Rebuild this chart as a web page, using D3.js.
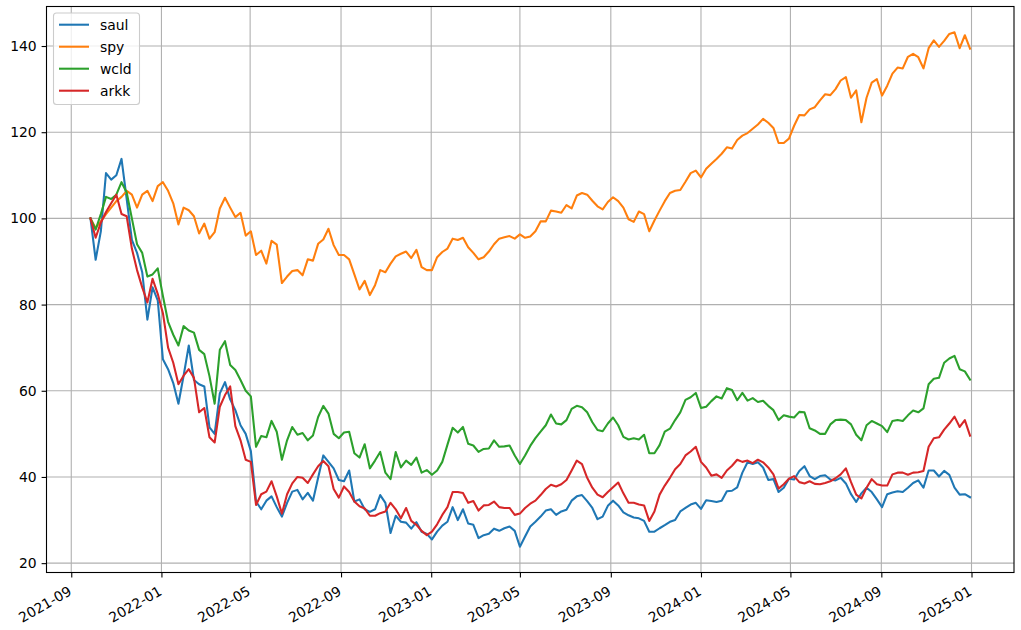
<!DOCTYPE html>
<html>
<head>
<meta charset="utf-8">
<script src="https://cdn.jsdelivr.net/npm/d3@7"></script>
<style>
  html, body { margin: 0; padding: 0; background: #fff; }
  svg { display: block; font-family: "DejaVu Sans", sans-serif; }
</style>
</head>
<body>
<svg id="chart" width="1021" height="630"></svg>
<script>
// ---- data (weekly samples, starting 2021-09-27) ----
const startDate = "2021-09-27";
const stepDays = 7;

const saul = [100,90.4,97,110.5,109,110,113.8,104.5,95,92,87.5,76.5,84,81,67.3,65,61.8,57,63.5,70.5,
  62.5,61.5,61,51.5,50,59.4,62,58,55.5,52,50,46,34.3,32.5,34.5,35.5,33,30.8,34,36.6,
  37,34.8,36.3,34.5,39.8,45,43.5,42,39.3,39,41.5,34.3,34.8,32.5,31.9,32.5,35.8,34,27,31,
  29.6,29.4,28,29.5,27.3,26.8,25.5,27.3,28.7,29.6,33,30,32.5,29.2,28.9,25.8,26.5,26.8,28,27.5,
  28.1,28.5,27.5,23.8,26.2,28.5,29.6,30.8,32.2,32.5,31.2,32,32.4,34.5,35.5,35.8,34.4,32.8,30.2,30.8,
  33.3,34.5,33.4,31.8,31.1,30.6,30.4,29.8,27.3,27.3,28.1,28.8,29.6,30,32,32.8,33.6,34,32.6,34.6,
  34.4,34.2,34.5,36.7,36.8,37.6,41,43.4,43,43.4,42.2,39.3,39.5,36.5,37.5,39.6,39.4,41.4,42.5,40.2,
  39.5,40.2,40.4,39.4,39.2,39.8,38.5,36,34.2,36.2,37.5,36.5,34.8,33,36,36.4,36.7,36.5,37.5,38.6,
  39.2,37.5,41.5,41.5,40.1,41.4,40.5,37.5,35.9,36,35.3];

const spy = [100,97.8,99.3,101,102.5,104,105,106.4,105.5,102.5,105.5,106.4,104,107.5,108.4,106.4,103.5,98.6,102.5,101.9,
  100.5,96.5,98.8,95.3,96.8,102.3,104.8,102.5,100.3,101.3,96,97,91.5,92.5,89.5,94.8,93.9,85,86.5,87.8,
  88,86.8,90.5,90.2,94.1,95.1,97.6,93.8,91.5,91.5,90.5,87,83.5,85.5,82.2,84.5,88,87.5,89.5,91.2,
  91.8,92.3,90.8,92.7,88.7,88,88,91,92.2,93,95.3,95,95.5,93.3,92,90.5,91,92.3,94,95.3,
  95.6,95.9,95.3,96.3,95.5,95.8,97,99.3,99.3,101.8,101.6,101.3,103.1,102.3,105.3,105.9,105.5,104.1,102.8,102.1,
  103.8,104.9,104,102.5,99.8,99.2,101.6,101,97,99.5,101.8,104,105.9,106.4,106.6,108.5,110.5,111.1,109.5,111.5,
  112.7,113.8,115,116.5,116.2,118.2,119.2,119.8,120.8,121.8,123.1,122.2,121,117.5,117.5,118.5,121.5,124,123.9,125.3,
  125.8,127.4,128.8,128.6,130,132,132.8,128,129.7,122.3,128,131.5,132.3,128.5,130.8,133.6,135,134.8,137.5,138.2,
  137.4,134.8,139.5,141.3,139.8,141.2,142.8,143.2,139.5,142.5,139.4];

const wcld = [100,97.4,101,105,104.5,105.5,108.4,106,100,94,92,86.5,87,88.4,82,76,73,70.5,75,74,
  73.5,69.5,68.5,63.4,57,69.5,71.5,66,64.8,62.5,60,58.7,47,49.5,49.2,53,50.5,44,48.5,51.6,
  49.8,50.2,48.5,49.6,53.9,56.5,54.7,50,49,50.3,50.5,45.5,44.5,47.6,42,43.8,45.8,41,39.5,45.8,
  42.2,43.8,42.8,44.5,41,41.6,40.5,41.5,43.5,47.5,51.4,50.3,51.6,47.7,47.3,45.8,46.5,46.6,48.5,47,
  47.1,47.3,45,43,45,47.2,49,50.5,52,54.5,52.4,52.2,53.2,55.8,56.5,56.2,55,52.7,50.9,50.6,
  52.4,53.8,52,49.3,48.7,49,48.7,49.8,45.5,45.5,47.4,50.5,51.2,53.2,55,57.9,58.5,59.5,56,56.3,
  57.6,58.7,58.2,60.6,60.2,57.8,59.5,57.7,58.3,57.4,57.7,56.5,55.5,53.2,54.3,54,53.8,55.1,55,51.3,
  50.8,50,50,52.2,53.2,53.3,53.2,52.2,49.8,48.5,52,53,52.4,51.8,50.4,53,53.2,53,54.3,55.4,
  55,55.9,61.5,62.8,63,66.5,67.5,68.1,65,64.5,62.6];

const arkk = [100,95.5,99,101.5,103.5,105.5,101,100.5,93,88,84,80.5,86,82.5,78,70,66.5,61.5,63.5,65,
  63,55,56,49.2,48,56.3,59,61,51.8,48.5,44,43.5,33.5,36,36.6,39,35.5,31.5,36,38.5,
  40,39.8,38.6,40.6,42.5,43.7,42.5,37.2,35.2,37.8,36.5,34.3,33.2,32.7,31,31,31.6,32,34,32.5,
  30.4,32.8,29.8,28.9,27.5,26.5,27.3,29,31.2,33,36.5,36.5,36.3,34,34.4,32.2,33.4,33.5,34.3,33,
  32.8,32.8,31.2,31.5,32.8,33.8,34.5,35.8,37.2,38.2,37.8,38.3,39.3,41.5,43.8,43,39.8,37.5,35.9,35.3,
  36.5,37.6,38.7,36.2,34,34,33.6,33.4,29.8,32,35.9,38,39.8,41.8,43,45,45.9,47,43.5,42.2,
  40.3,40.6,39.8,41.5,42.6,44,43.5,43.8,43.2,44,43.4,42.2,40.6,37.3,38.3,39.6,40.2,38.8,38.5,39,
  38.4,38.3,38.6,39,39.7,40.6,42,38.8,35.9,35,37.5,39.5,38.3,38,38,40.6,41,41,40.5,41,
  41.1,41.4,47,49,49.2,51,52.4,54,51.6,53.2,49.6];

const seriesNames = ["saul", "spy", "wcld", "arkk"];
const seriesValues = [saul, spy, wcld, arkk];
const seriesColors = ["#1f77b4", "#ff7f0e", "#2ca02c", "#d62728"];

const xTickDates = ["2021-09-01","2022-01-01","2022-05-01","2022-09-01","2023-01-01","2023-05-01",
  "2023-09-01","2024-01-01","2024-05-01","2024-09-01","2025-01-01"];
const yTickValues = [20, 40, 60, 80, 100, 120, 140];

// ---- layout ----
const W = 1021, H = 630;
const m = { left: 46.5, right: 1014, top: 6.5, bottom: 572.5 };

const parse = d3.utcParse("%Y-%m-%d");
const start = parse(startDate);
const dates = saul.map((_, i) => d3.utcDay.offset(start, i * stepDays));

const t0 = dates[0].getTime(), t1 = dates[dates.length - 1].getTime();
const tPad = (t1 - t0) * 0.05;
const x = d3.scaleUtc().domain([new Date(t0 - tPad), new Date(t1 + tPad)]).range([m.left, m.right]);

const allVals = seriesValues.flat();
const vMin = d3.min(allVals), vMax = d3.max(allVals);
const vPad = (vMax - vMin) * 0.05;
const y = d3.scaleLinear().domain([vMin - vPad, vMax + vPad]).range([m.bottom, m.top]);

const svg = d3.select("#chart");
svg.append("rect").attr("width", W).attr("height", H).attr("fill", "#fff");

const tickDates = xTickDates.map(parse);

// grid
const grid = svg.append("g");
grid.selectAll(".gx").data(tickDates).join("line")
  .attr("x1", d => x(d)).attr("x2", d => x(d))
  .attr("y1", m.top).attr("y2", m.bottom)
  .attr("stroke", "#b0b0b0").attr("stroke-width", 1.1);
grid.selectAll(".gy").data(yTickValues).join("line")
  .attr("x1", m.left).attr("x2", m.right)
  .attr("y1", d => y(d)).attr("y2", d => y(d))
  .attr("stroke", "#b0b0b0").attr("stroke-width", 1.1);

// clip
svg.append("clipPath").attr("id", "clip").append("rect")
  .attr("x", m.left).attr("y", m.top).attr("width", m.right - m.left).attr("height", m.bottom - m.top);

const line = d3.line().x((d, i) => x(dates[i])).y(d => y(d));
const lines = svg.append("g").attr("clip-path", "url(#clip)");
seriesValues.forEach((vals, k) => {
  lines.append("path").datum(vals)
    .attr("d", line)
    .attr("fill", "none")
    .attr("stroke", seriesColors[k])
    .attr("stroke-width", 2.08)
    .attr("stroke-linejoin", "round")
    .attr("stroke-linecap", "square");
});

// axes
const fmt = d3.utcFormat("%Y-%m");
const xAxis = d3.axisBottom(x).tickValues(tickDates).tickFormat(fmt).tickSize(4.9).tickPadding(4.9);
const gx = svg.append("g").attr("transform", `translate(0,${m.bottom})`).call(xAxis);
gx.select(".domain").remove();
gx.selectAll(".tick line").attr("stroke", "#000").attr("stroke-width", 1.1);
gx.selectAll(".tick text")
  .attr("font-size", 13.9).attr("fill", "#000")
  .attr("font-family", "DejaVu Sans, sans-serif")
  .attr("text-anchor", "end")
  .attr("dy", null)
  .attr("x", 1).attr("y", 0)
  .attr("transform", "translate(0,22) rotate(-30)");

const yAxis = d3.axisLeft(y).tickValues(yTickValues).tickSize(4.9).tickPadding(4.9);
const gy = svg.append("g").attr("transform", `translate(${m.left},0)`).call(yAxis);
gy.select(".domain").remove();
gy.selectAll(".tick line").attr("stroke", "#000").attr("stroke-width", 1.1);
gy.selectAll(".tick text").attr("font-size", 13.9).attr("fill", "#000")
  .attr("font-family", "DejaVu Sans, sans-serif");

// frame
svg.append("rect")
  .attr("x", m.left).attr("y", m.top)
  .attr("width", m.right - m.left).attr("height", m.bottom - m.top)
  .attr("fill", "none").attr("stroke", "#000").attr("stroke-width", 1.1);

// legend
const lg = svg.append("g");
lg.append("rect")
  .attr("x", 53.5).attr("y", 13).attr("width", 86).attr("height", 91.5)
  .attr("rx", 3).attr("ry", 3)
  .attr("fill", "#fff").attr("fill-opacity", 0.8)
  .attr("stroke", "#cccccc").attr("stroke-width", 1.1);
seriesNames.forEach((name, k) => {
  const yy = 24.7 + k * 22;
  lg.append("line").attr("x1", 59).attr("x2", 89).attr("y1", yy).attr("y2", yy)
    .attr("stroke", seriesColors[k]).attr("stroke-width", 2.08);
  lg.append("text").attr("x", 100).attr("y", yy).attr("dy", "0.35em")
    .attr("font-size", 13.9).attr("fill", "#000").text(name);
});
</script>
</body>
</html>
